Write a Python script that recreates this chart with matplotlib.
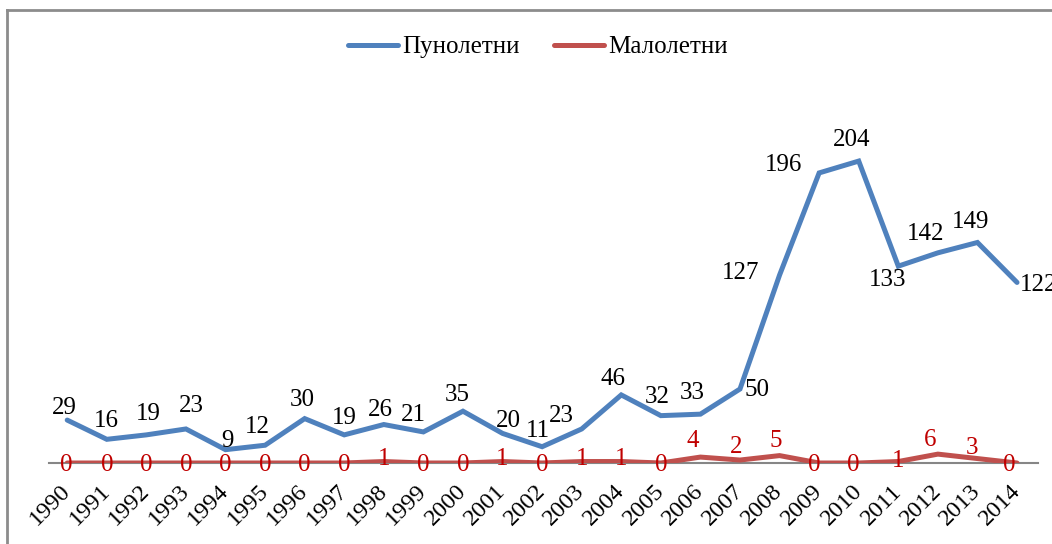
import matplotlib
matplotlib.use('Agg')
import matplotlib.pyplot as plt
from matplotlib.lines import Line2D

years = list(range(1990, 2015))
adults = [29, 16, 19, 23, 9, 12, 30, 19, 26, 21, 35, 20, 11, 23, 46, 32, 33, 50,
          127, 196, 204, 133, 142, 149, 122]
minors = [0, 0, 0, 0, 0, 0, 0, 0, 1, 0, 0, 1, 0, 1, 1, 0, 4, 2, 5, 0, 0, 1, 6, 3, 0]
labels = ['Пунолетни', 'Малолетни']

# label offsets in pixels (dx, dy up), placed by hand like in the original
adult_off = [(-3, 12), (0, 18), (2, 21), (5, 23), (2, 9), (-8, 18), (-2, 19), (0, 17),
             (-3, 15), (-10, 17), (-6, 16), (6, 12), (-4, 16), (-20, 13), (-8, 16),
             (-4, 19), (-8, 21), (17, -1), (-39, 2), (-36, 8), (-7, 21), (-11, -14),
             (-12, 19), (-7, 20), (22, -3)]
minor_off = [(-1, -2), (0, -2), (0, -2), (0, -2), (0, -2), (0, -2), (0, -2), (0, -2),
             (0, 3), (0, -2), (0, -2), (0, 3), (0, -2), (0, 3), (0, 3), (0, -2),
             (-8, 16), (-4, 13), (-4, 15), (-5, -2), (-5, -2), (0, 1), (-8, 14),
             (-5, 11), (-8, -2)]

blue = '#4F81BD'
red = '#C0504D'

plt.rcParams['font.family'] = ['Liberation Serif', 'DejaVu Serif']
fs = 18

fig = plt.figure(figsize=(10.52, 5.44), dpi=100)
W, H = 1052, 544
ax = fig.add_axes([49 / W, 1 - 463 / H, (1038 - 49) / W, 370 / H])

x = list(range(len(years)))
ax.plot(x, adults, color=blue, lw=3.6, solid_capstyle='round', solid_joinstyle='miter',
        label=labels[0], zorder=3)
ax.plot(x, minors, color=red, lw=3.6, solid_capstyle='round', solid_joinstyle='miter',
        label=labels[1], zorder=3)

for i, v in enumerate(adults):
    dx, dy = adult_off[i]
    ax.annotate(str(v), (i, v), xytext=(dx, dy), textcoords='offset pixels',
                ha='center', va='center', fontsize=fs, color='black', zorder=5,
                annotation_clip=False)
for i, v in enumerate(minors):
    dx, dy = minor_off[i]
    ax.annotate(str(v), (i, v), xytext=(dx, dy), textcoords='offset pixels',
                ha='center', va='center', fontsize=fs, color='#C00000', zorder=5,
                annotation_clip=False)

ax.set_xlim(-0.46, 24.53)
ax.set_ylim(0, 250)
ax.set_yticks([])
ax.set_xticks(x)
ax.set_xticklabels([str(y) for y in years], rotation=45, ha='right', va='center',
                   rotation_mode='anchor', fontsize=fs - 0.5)
ax.tick_params(axis='x', length=0, pad=18)
for s in ['top', 'right', 'left']:
    ax.spines[s].set_visible(False)
ax.spines['bottom'].set_color('#868686')
ax.spines['bottom'].set_linewidth(1.5)
ax.spines['bottom'].set_zorder(1)
ax.patch.set_visible(False)

fig.legend(loc='center', bbox_to_anchor=(538 / W, 1 - 47 / H), ncol=2, frameon=False,
           fontsize=fs, handlelength=2.0, handletextpad=0.15, columnspacing=1.4)

# chart area border (cut off on the right and bottom)
fig.add_artist(Line2D([7 / W, 1.0], [1 - 10 / H, 1 - 10 / H], color='#8C8C8C', lw=2,
                      transform=fig.transFigure))
fig.add_artist(Line2D([7 / W, 7 / W], [0, 1 - 10 / H], color='#8C8C8C', lw=2,
                      transform=fig.transFigure))

fig.savefig('out.png', dpi=100)
